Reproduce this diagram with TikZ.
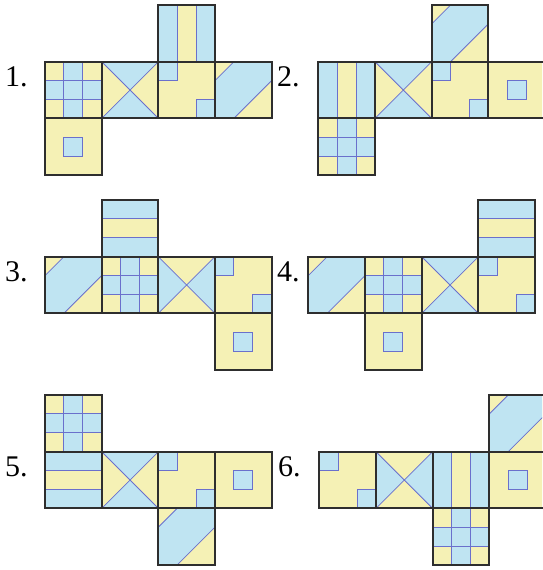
\documentclass[tikz,border=0pt]{standalone}
\usepackage{fontspec}
\setmainfont{Liberation Serif}
\definecolor{fblue}{HTML}{BFE4F2}
\definecolor{fyel}{HTML}{F5F1B5}
\definecolor{fline}{HTML}{6A70CC}
\definecolor{fedge}{HTML}{2E2E2E}
\pgfdeclarelayer{edges}
\pgfsetlayers{main,edges}
\newcommand{\faceedge}{\begin{pgfonlayer}{edges}\draw[edge] (0,0) rectangle (3,3);\end{pgfonlayer}}
\tikzset{
  inner/.style={draw=fline,line width=0.8pt},
  edge/.style={draw=fedge,line width=1.8pt},
  lbl/.style={anchor=base west,inner sep=0pt,font=\fontsize{30}{30}\selectfont},
  grid face/.pic={\begin{scope}[x=18.89pt,y=-18.89pt]
    \fill[fyel] (0,0) rectangle (3,3);
    \fill[fblue] (1,0) rectangle (2,3) (0,1) rectangle (3,2);
    \draw[inner] (1,0)--(1,3) (2,0)--(2,3) (0,1)--(3,1) (0,2)--(3,2);
    \faceedge
  \end{scope}},
  xtb face/.pic={\begin{scope}[x=18.89pt,y=-18.89pt]
    \fill[fyel] (0,0) rectangle (3,3);
    \fill[fblue] (0,0)--(3,0)--(1.5,1.5)--cycle (0,3)--(3,3)--(1.5,1.5)--cycle;
    \draw[inner] (0,0)--(3,3) (3,0)--(0,3);
    \faceedge
  \end{scope}},
  xlr face/.pic={\begin{scope}[x=18.89pt,y=-18.89pt]
    \fill[fyel] (0,0) rectangle (3,3);
    \fill[fblue] (0,0)--(0,3)--(1.5,1.5)--cycle (3,0)--(3,3)--(1.5,1.5)--cycle;
    \draw[inner] (0,0)--(3,3) (3,0)--(0,3);
    \faceedge
  \end{scope}},
  sv face/.pic={\begin{scope}[x=18.89pt,y=-18.89pt]
    \fill[fyel] (0,0) rectangle (3,3);
    \fill[fblue] (0,0) rectangle (1,3) (2,0) rectangle (3,3);
    \draw[inner] (1,0)--(1,3) (2,0)--(2,3);
    \faceedge
  \end{scope}},
  sh face/.pic={\begin{scope}[x=18.89pt,y=-18.89pt]
    \fill[fyel] (0,0) rectangle (3,3);
    \fill[fblue] (0,0) rectangle (3,1) (0,2) rectangle (3,3);
    \draw[inner] (0,1)--(3,1) (0,2)--(3,2);
    \faceedge
  \end{scope}},
  cor face/.pic={\begin{scope}[x=18.89pt,y=-18.89pt]
    \fill[fyel] (0,0) rectangle (3,3);
    \fill[fblue] (0,0) rectangle (1,1) (2,2) rectangle (3,3);
    \draw[inner] (1,0)--(1,1)--(0,1) (2,3)--(2,2)--(3,2);
    \faceedge
  \end{scope}},
  cen face/.pic={\begin{scope}[x=18.89pt,y=-18.89pt]
    \fill[fyel] (0,0) rectangle (3,3);
    \fill[fblue] (1,1) rectangle (2,2);
    \draw[inner] (1,1) rectangle (2,2);
    \faceedge
  \end{scope}},
  dg face/.pic={\begin{scope}[x=18.89pt,y=-18.89pt]
    \fill[fyel] (0,0) rectangle (3,3);
    \fill[fblue] (1,0)--(3,0)--(3,1)--(1,3)--(0,3)--(0,1)--cycle;
    \draw[inner] (1,0)--(0,1) (3,1)--(1,3);
    \faceedge
  \end{scope}},
}
\begin{document}
\begin{tikzpicture}[x=1pt,y=-1pt]
\clip (0,0) rectangle (542,570);
\fill[white] (0,0) rectangle (542,570);
% net 1
\node[lbl] (l1) at (5,86) {1.};
\pic at (45,61.7) {grid face};
\pic at (101.7,61.7) {xtb face};
\pic at (158.3,61.7) {cor face};
\pic at (215,61.7) {dg face};
\pic at (158.3,5) {sv face};
\pic at (45,118.3) {cen face};
% net 2
\node[lbl] (l2) at (277,86) {2.};
\pic at (318.3,61.7) {sv face};
\pic at (375,61.7) {xtb face};
\pic at (431.7,61.7) {cor face};
\pic at (488.3,61.7) {cen face};
\pic at (431.7,5) {dg face};
\pic at (318.3,118.3) {grid face};
% net 3
\node[lbl] (l3) at (5,281) {3.};
\pic at (45,256.7) {dg face};
\pic at (101.7,256.7) {grid face};
\pic at (158.3,256.7) {xlr face};
\pic at (215,256.7) {cor face};
\pic at (101.7,200) {sh face};
\pic at (215,313.3) {cen face};
% net 4
\node[lbl] (l4) at (277,281.5) {4.};
\pic at (308.3,256.7) {dg face};
\pic at (365,256.7) {grid face};
\pic at (421.7,256.7) {xtb face};
\pic at (478.3,256.7) {cor face};
\pic at (478.3,200) {sh face};
\pic at (365,313.3) {cen face};
% net 5
\node[lbl] (l5) at (5,476) {5.};
\pic at (45,451.7) {sh face};
\pic at (101.7,451.7) {xtb face};
\pic at (158.3,451.7) {cor face};
\pic at (215,451.7) {cen face};
\pic at (45,395) {grid face};
\pic at (158.3,508.3) {dg face};
% net 6
\node[lbl] (l6) at (278,476) {6.};
\pic at (319.3,451.7) {cor face};
\pic at (376,451.7) {xlr face};
\pic at (432.7,451.7) {sv face};
\pic at (489.3,451.7) {cen face};
\pic at (489.3,395) {dg face};
\pic at (432.7,508.3) {grid face};
\end{tikzpicture}
\end{document}
